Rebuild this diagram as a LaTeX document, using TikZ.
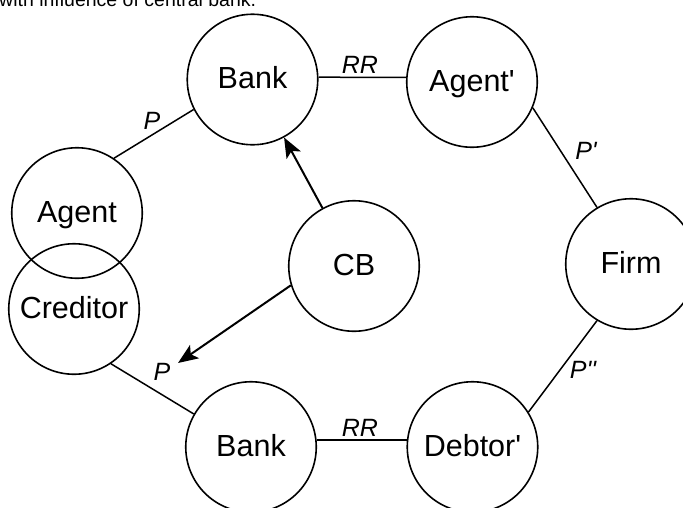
\documentclass[tikz,border=0pt]{standalone}
\usepackage{fontspec}
\setmainfont{Liberation Sans}
\newfontfamily\arialfont{Liberation Sans}
\usetikzlibrary{arrows.meta}
\begin{document}
\begin{tikzpicture}[x=1pt,y=-1pt,
  actor/.style={circle,draw,line width=1.6pt,minimum size=130.5pt,inner sep=0pt,
    font=\arialfont\fontsize{30.5}{36}\selectfont,text height=22pt,text depth=4pt},
  conn/.style={line width=1.5pt},
  arr/.style={line width=2pt,-{Stealth[length=20pt,width=16pt,inset=4.5pt]}},
  lbl/.style={font=\arialfont\fontsize{25}{30}\selectfont\itshape,inner sep=0pt}]
\useasboundingbox (0,0) rectangle (683,507);
\node[anchor=base west,inner sep=0pt,font=\arialfont\fontsize{19.5}{23}\selectfont] (title) at (-1,6) {with influence of central bank.};
\node[actor] (banktop) at (252.5,79.5) {Bank};
\node[actor] (agentp) at (472,82) {Agent'};
\node[actor] (firm) at (631,264) {Firm};
\node[actor] (cb) at (354,266) {CB};
\node[actor] (agent) at (77,213) {Agent};
\node[actor] (creditor) at (74,309) {Creditor};
\node[actor] (bankbot) at (251,447) {Bank};
\node[actor] (debtorp) at (472.5,447) {Debtor'};
\coordinate (ptip) at (178,363);
\draw[conn] (agent.56) -- (banktop.207);
\draw[conn] (banktop.2) -- (agentp.176);
\draw[conn] (agentp.-23) -- (firm.121);
\draw[conn] (firm.239) -- (debtorp.32);
\draw[conn] (bankbot.6) -- (debtorp.174);
\draw[conn] (creditor.-56) -- (bankbot.150);
\draw[arr] (cb) -- (banktop);
\draw[arr] (cb.197) -- (ptip);
\node[lbl] (p1) at (152,121) {P};
\node[lbl] (rr1) at (360,65) {RR};
\node[lbl] (p2) at (586,151) {P'};
\node[lbl] (p3) at (583,370) {P''};
\node[lbl] (rr2) at (360,428) {RR};
\node[lbl] (p4) at (162,372) {P};
\end{tikzpicture}
\end{document}
